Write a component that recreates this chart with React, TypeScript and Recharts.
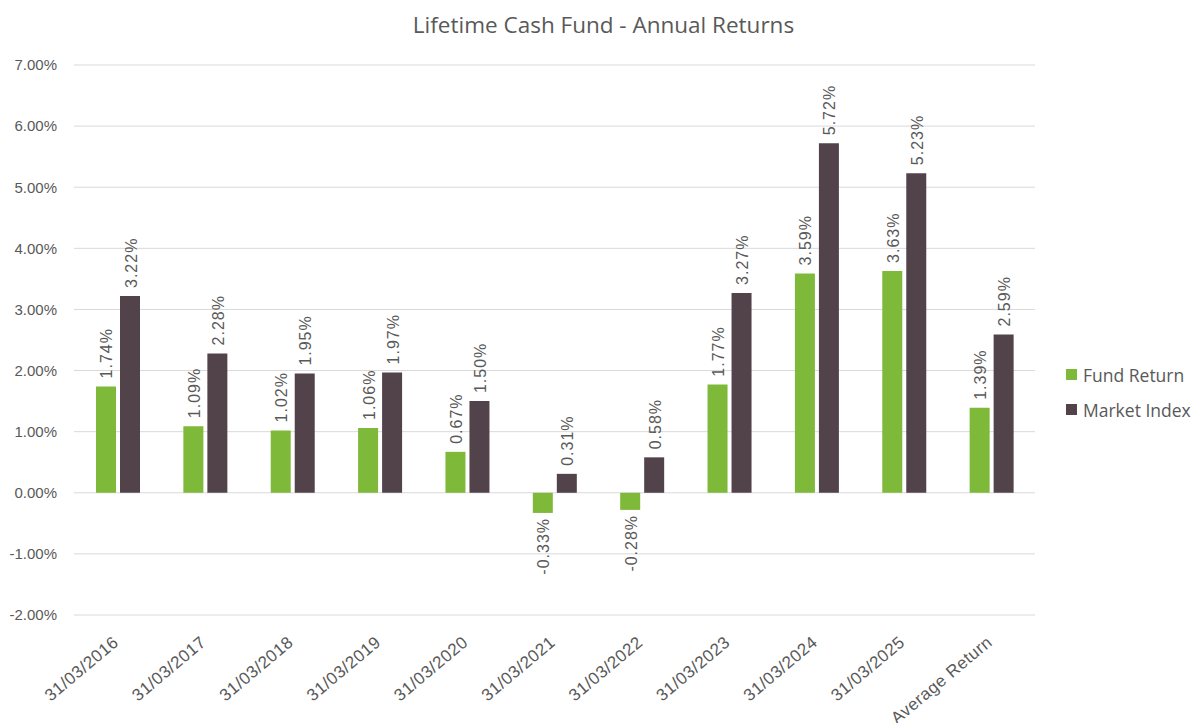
import React from "react";
import { BarChart, Bar, XAxis, YAxis, CartesianGrid, LabelList } from "recharts";

const categories = [
  "31/03/2016", "31/03/2017", "31/03/2018", "31/03/2019", "31/03/2020",
  "31/03/2021", "31/03/2022", "31/03/2023", "31/03/2024", "31/03/2025", "Average Return",
];
const fundReturn = [1.74, 1.09, 1.02, 1.06, 0.67, -0.33, -0.28, 1.77, 3.59, 3.63, 1.39];
const marketIndex = [3.22, 2.28, 1.95, 1.97, 1.5, 0.31, 0.58, 3.27, 5.72, 5.23, 2.59];
const yTicks = [-2, -1, 0, 1, 2, 3, 4, 5, 6, 7];
const seriesNames = ["Fund Return", "Market Index"];

const FUND_COLOR = "#7FB93A";
const MARKET_COLOR = "#52434A";
const TEXT = "#595959";
const FONT = "Liberation Sans, Arial, sans-serif";

const data = categories.map((c, i) => ({ name: c, fund: fundReturn[i], market: marketIndex[i] }));

const fmt = (v: number) => `${v.toFixed(2)}%`;

const ValueLabel = (props: any) => {
  const { x, y, width, height, value } = props;
  const cx = x + width / 2 + 1;
  const top = Math.min(y, y + height);
  const bottom = Math.max(y, y + height);
  const pos = value >= 0;
  const ly = pos ? top - 8 : bottom + 5;
  return (
    <text x={cx} y={ly} transform={`rotate(-90, ${cx}, ${ly})`} textAnchor={pos ? "start" : "end"}
      dominantBaseline="central" fontSize={16} letterSpacing={1} fill={TEXT} fontFamily={FONT}>{fmt(value)}</text>
  );
};

const XTick = (props: any) => {
  const { x, y, payload } = props;
  const tx = x + 2;
  const ty = y + 21;
  return (
    <text x={tx} y={ty} transform={`rotate(-40, ${tx}, ${ty})`} textAnchor="end" fontSize={17} letterSpacing={0.5}
      fill={TEXT} fontFamily={FONT}>{payload.value}</text>
  );
};

export default function App() {
  const colors = [FUND_COLOR, MARKET_COLOR];
  return (
    <div style={{ position: "absolute", left: 0, top: 0, width: 1192, height: 723, background: "#fff" }}>
      <div style={{ position: "absolute", left: 0, top: 10, width: 1207, textAlign: "center", fontFamily: "Open Sans, sans-serif",
        fontSize: 22.5, color: TEXT, lineHeight: "30px" }}>Lifetime Cash Fund - Annual Returns</div>
      <BarChart width={1192} height={723} data={data} barSize={20} barGap={4}
        margin={{ top: 65, right: 157, left: 0, bottom: 0 }}>
        <CartesianGrid vertical={false} stroke="#D9D9D9" />
        <XAxis dataKey="name" axisLine={false} tickLine={false} interval={0} tick={<XTick />} height={108} />
        <YAxis domain={[-2, 7]} ticks={yTicks} tickFormatter={fmt} axisLine={false} tickLine={false} width={74}
          tick={{ fontSize: 15, fill: TEXT, fontFamily: FONT }} tickMargin={11} />
        <Bar dataKey="fund" name={seriesNames[0]} fill={FUND_COLOR} isAnimationActive={false}>
          <LabelList dataKey="fund" content={<ValueLabel />} />
        </Bar>
        <Bar dataKey="market" name={seriesNames[1]} fill={MARKET_COLOR} isAnimationActive={false}>
          <LabelList dataKey="market" content={<ValueLabel />} />
        </Bar>
      </BarChart>
      <div style={{ position: "absolute", left: 1066, top: 357, width: 130, fontFamily: "Open Sans, sans-serif",
        fontSize: 17.5, color: TEXT }}>
        {seriesNames.map((n, i) => (
          <div key={i} style={{ display: "flex", alignItems: "center", height: 35, whiteSpace: "nowrap" }}>
            <span style={{ display: "inline-block", width: 11, height: 11, background: colors[i], marginRight: 6 }} />
            <span>{n}</span>
          </div>
        ))}
      </div>
    </div>
  );
}
